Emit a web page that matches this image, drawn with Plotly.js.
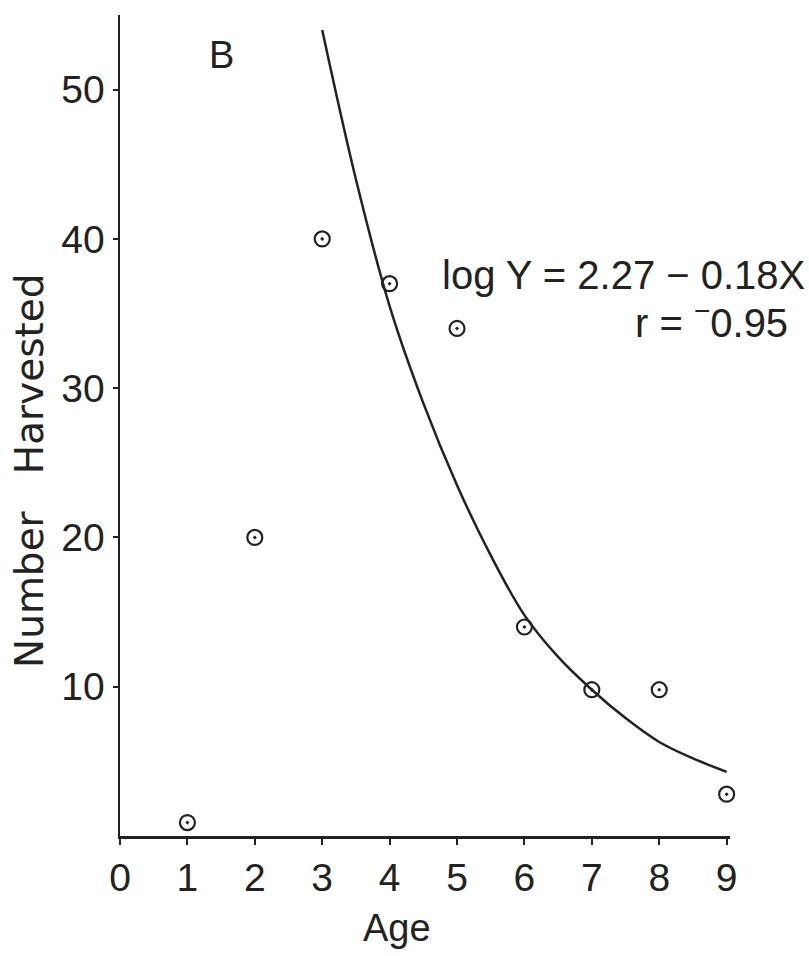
<!DOCTYPE html>
<html>
<head>
<meta charset="utf-8">
<script src="https://cdn.plot.ly/plotly-3.0.1.min.js"></script>
<style>html,body{margin:0;padding:0;background:#fff;}#chart{width:809px;height:956px;}</style>
</head>
<body>
<div id="chart"></div>
<script>
// Observed data
const ages = [1, 2, 3, 4, 5, 6, 7, 8, 9];
const harvested = [0.9, 20, 40, 37, 34, 14, 9.8, 9.8, 2.8];
// Fitted curve
const fitAge = [3, 3.5, 4, 4.5, 5, 5.5, 6, 6.5, 7, 7.5, 8, 8.5, 9];
const fitNumber = [54, 44, 35.5, 29, 23.5, 18.8, 14.8, 12, 9.8, 7.9, 6.3, 5.2, 4.3];
// Tick labels
const xTicks = [0, 1, 2, 3, 4, 5, 6, 7, 8, 9];
const yTicks = [10, 20, 30, 40, 50];

const ink = '#222';
const font = 'Liberation Sans, Arial, sans-serif';
const wideFont = 'DejaVu Sans, sans-serif';

const traces = [
  {
    x: fitAge, y: fitNumber, mode: 'lines', type: 'scatter',
    line: {color: ink, width: 2.5, shape: 'spline', smoothing: 1}, hoverinfo: 'skip'
  },
  {
    x: ages, y: harvested, mode: 'markers', type: 'scatter',
    marker: {symbol: 'circle-open-dot', size: 15, color: ink, line: {color: ink, width: 2.2}},
    cliponaxis: false
  }
];

const layout = {
  width: 809, height: 956,
  margin: {l: 120, r: 79, t: 15, b: 120},
  paper_bgcolor: '#fff', plot_bgcolor: '#fff',
  showlegend: false,
  font: {family: font, color: ink, size: 38},
  xaxis: {
    range: [0, 9.05], tickvals: xTicks, ticktext: xTicks.map(String),
    showline: true, linecolor: ink, linewidth: 2.5, showgrid: false, zeroline: false,
    ticks: 'outside', ticklen: 6, tickwidth: 2, tickcolor: ink,
    tickfont: {family: font, size: 39, color: ink}
  },
  yaxis: {
    range: [0, 55], tickvals: yTicks, ticktext: yTicks.map(String),
    showline: true, linecolor: ink, linewidth: 2.5, showgrid: false, zeroline: false,
    ticks: 'outside', ticklen: 5, tickwidth: 2, tickcolor: ink,
    tickfont: {family: font, size: 39, color: ink}
  },
  annotations: [
    {text: 'B', x: 1.51, y: 52.3, xref: 'x', yref: 'y', showarrow: false,
     xanchor: 'center', yanchor: 'middle',
     font: {family: font, size: 38, color: ink}},
    {text: 'log Y = 2.27 − 0.18X', x: 4.75, y: 37.6, xref: 'x', yref: 'y', xanchor: 'left', yanchor: 'middle', showarrow: false,
     font: {family: font, size: 40, color: ink}},
    {text: 'r = <sup>−</sup>0.95', x: 1.098, y: 34.6, xref: 'paper', yref: 'y', xanchor: 'right', yanchor: 'middle', showarrow: false,
     font: {family: font, size: 40, color: ink}},
    {text: 'Number\u00a0\u00a0\u00a0Harvested', x: -0.1475, y: 0.4446, xref: 'paper', yref: 'paper', textangle: -90,
     xanchor: 'center', yanchor: 'middle', showarrow: false, font: {family: wideFont, size: 39, color: ink}},
    {text: 'Age', x: 4.11, y: -0.112, xref: 'x', yref: 'paper', xanchor: 'center', yanchor: 'middle', showarrow: false,
     font: {family: font, size: 38, color: ink}}
  ]
};

Plotly.newPlot('chart', traces, layout, {displayModeBar: false, staticPlot: true});
</script>
</body>
</html>
